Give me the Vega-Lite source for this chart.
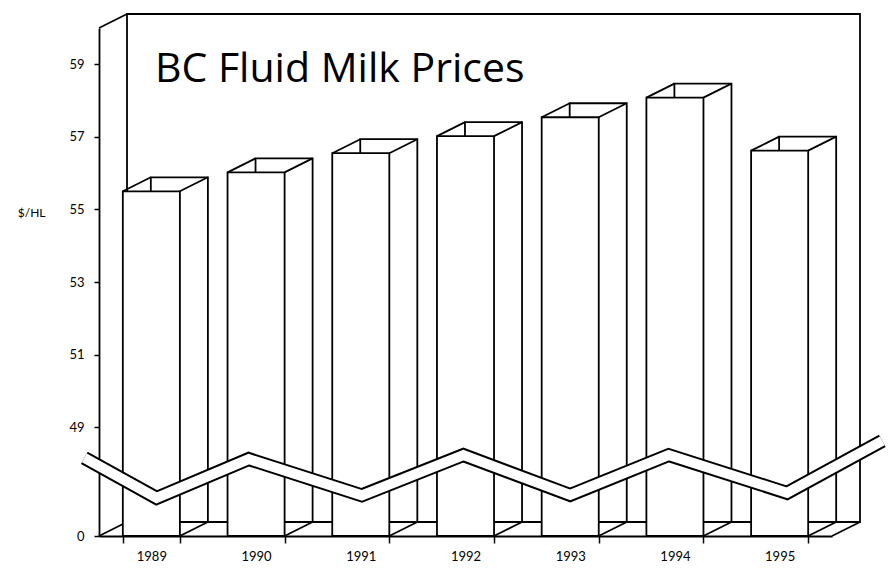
{
  "$schema": "https://vega.github.io/schema/vega-lite/v6.json",
  "width": 733,
  "height": 508,
  "autosize": {"type": "none"},
  "padding": {"left": 99, "top": 28, "right": 58, "bottom": 33},
  "background": "white",
  "config": {
    "view": {"stroke": null},
    "font": "Lato",
    "axis": {"domainColor": "black", "domainWidth": 1.8, "tickColor": "black", "tickWidth": 1.5, "labelColor": "black", "titleColor": "black", "grid": false}
  },
  "title": {
    "text": "BC Fluid Milk Prices",
    "anchor": "start",
    "frame": "group",
    "orient": "top",
    "offset": -55,
    "dx": 56,
    "dy": 58,
    "baseline": "alphabetic",
    "font": "Open Sans",
    "fontSize": 41,
    "fontWeight": "normal",
    "color": "black"
  },
  "datasets": {
    "prices": [
      {"year": "1989", "value": 55.5},
      {"year": "1990", "value": 56.02},
      {"year": "1991", "value": 56.55},
      {"year": "1992", "value": 57.02},
      {"year": "1993", "value": 57.54},
      {"year": "1994", "value": 58.08},
      {"year": "1995", "value": 56.62}
    ],
    "breakline": [
      {"pos": -0.14, "value": 48.15},
      {"pos": 0.55, "value": 47.05},
      {"pos": 1.43, "value": 48.12},
      {"pos": 2.51, "value": 47.12},
      {"pos": 3.48, "value": 48.23},
      {"pos": 4.5, "value": 47.13},
      {"pos": 5.44, "value": 48.23},
      {"pos": 6.57, "value": 47.19},
      {"pos": 7.48, "value": 48.62}
    ],
    "frame": [{}]
  },
  "layer": [
    {
      "data": {"name": "frame"},
      "mark": {"type": "rect", "fill": "white", "stroke": "black", "strokeWidth": 1.8, "xOffset": 28, "x2Offset": 28, "yOffset": -14, "y2Offset": -14},
      "encoding": {
        "x": {"datum": 0, "type": "quantitative", "scale": {"domain": [0, 7], "nice": false, "zero": false}, "axis": null},
        "x2": {"datum": 7},
        "y": {"datum": 46, "type": "quantitative", "scale": {"domain": [46, 60], "nice": false, "zero": false}},
        "y2": {"datum": 60}
      }
    },
    {
      "data": {"name": "frame"},
      "mark": {"type": "point", "shape": "M0,0L28,-14", "size": 4, "filled": false, "stroke": "black", "strokeWidth": 1.8, "opacity": 1},
      "encoding": {
        "x": {"datum": 0, "type": "quantitative", "scale": {"domain": [0, 7], "nice": false, "zero": false}, "axis": null},
        "y": {"datum": 60, "type": "quantitative", "scale": {"domain": [46, 60], "nice": false, "zero": false}}
      }
    },
    {
      "data": {"name": "frame"},
      "mark": {"type": "point", "shape": "M0,0L28,-14", "size": 4, "filled": false, "stroke": "black", "strokeWidth": 1.8, "opacity": 1},
      "encoding": {
        "x": {"datum": 0, "type": "quantitative", "scale": {"domain": [0, 7], "nice": false, "zero": false}, "axis": null},
        "y": {"datum": 46, "type": "quantitative", "scale": {"domain": [46, 60], "nice": false, "zero": false}}
      }
    },
    {
      "data": {"name": "frame"},
      "mark": {"type": "point", "shape": "M0,0L28,-14", "size": 4, "filled": false, "stroke": "black", "strokeWidth": 1.8, "opacity": 1},
      "encoding": {
        "x": {"datum": 7, "type": "quantitative", "scale": {"domain": [0, 7], "nice": false, "zero": false}, "axis": null},
        "y": {"datum": 46, "type": "quantitative", "scale": {"domain": [46, 60], "nice": false, "zero": false}}
      }
    },
    {
      "data": {"name": "prices"},
      "mark": {"type": "bar", "fill": "white", "stroke": "black", "strokeWidth": 1.8, "xOffset": 28, "yOffset": -14, "y2Offset": -14},
      "encoding": {
        "x": {"field": "year", "type": "ordinal", "scale": {"paddingInner": 0.455, "paddingOuter": 0.2275}, "axis": null},
        "y": {"field": "value", "type": "quantitative", "scale": {"domain": [46, 60], "nice": false, "zero": false}},
        "y2": {"datum": 46}
      }
    },
    {
      "data": {"name": "prices"},
      "mark": {"type": "bar", "fill": "white", "stroke": "black", "strokeWidth": 1.8},
      "encoding": {
        "x": {
          "field": "year",
          "type": "ordinal",
          "scale": {"paddingInner": 0.455, "paddingOuter": 0.2275},
          "axis": {
            "title": null,
            "tickBand": "extent",
            "labelAngle": 0,
            "domainColor": "black",
            "domainWidth": 1.8,
            "tickColor": "black",
            "tickSize": 7,
            "tickWidth": 1.5,
            "labelFont": "Lato",
            "labelFontSize": 13,
            "labelPadding": 7,
            "labelColor": "black"
          }
        },
        "y": {
          "field": "value",
          "type": "quantitative",
          "scale": {"domain": [46, 60], "nice": false, "zero": false},
          "title": "$/HL",
          "axis": {
            "values": [46, 49, 51, 53, 55, 57, 59],
            "labelExpr": "datum.value == 46 ? '0' : datum.label",
            "grid": false,
            "domainColor": "black",
            "domainWidth": 1.8,
            "tickColor": "black",
            "tickSize": 5,
            "tickWidth": 1.5,
            "labelFont": "Lato",
            "labelFontSize": 13,
            "labelColor": "black",
            "labelPadding": 10,
            "titleAngle": 0,
            "titleX": -54,
            "titleY": 184,
            "titleAlign": "right",
            "titleBaseline": "middle",
            "titleFont": "Lato",
            "titleFontSize": 12,
            "titleFontWeight": "normal",
            "titleColor": "black"
          }
        },
        "y2": {"datum": 46}
      }
    },
    {
      "data": {"name": "prices"},
      "mark": {"type": "point", "shape": "M-28.5,0L-0.5,-14M28.5,0L56.5,-14", "size": 4, "filled": false, "stroke": "black", "strokeWidth": 1.8, "opacity": 1},
      "encoding": {
        "x": {"field": "year", "type": "ordinal", "scale": {"paddingInner": 0.455, "paddingOuter": 0.2275}, "axis": null},
        "y": {"field": "value", "type": "quantitative", "scale": {"domain": [46, 60], "nice": false, "zero": false}}
      }
    },
    {
      "data": {"name": "prices"},
      "mark": {"type": "point", "shape": "M28.5,0L56.5,-14", "size": 4, "filled": false, "stroke": "black", "strokeWidth": 1.8, "opacity": 1},
      "encoding": {
        "x": {"field": "year", "type": "ordinal", "scale": {"paddingInner": 0.455, "paddingOuter": 0.2275}, "axis": null},
        "y": {"datum": 46, "type": "quantitative", "scale": {"domain": [46, 60], "nice": false, "zero": false}}
      }
    },
    {
      "data": {"name": "breakline"},
      "mark": {"type": "line", "color": "black", "strokeWidth": 14, "strokeJoin": "miter", "strokeCap": "butt"},
      "encoding": {
        "x": {"field": "pos", "type": "quantitative", "scale": {"domain": [0, 7], "nice": false, "zero": false}, "axis": null},
        "y": {"field": "value", "type": "quantitative", "scale": {"domain": [46, 60], "nice": false, "zero": false}}
      }
    },
    {
      "data": {"name": "breakline"},
      "mark": {"type": "line", "color": "white", "strokeWidth": 10, "strokeJoin": "miter", "strokeCap": "butt"},
      "encoding": {
        "x": {"field": "pos", "type": "quantitative", "scale": {"domain": [0, 7], "nice": false, "zero": false}, "axis": null},
        "y": {"field": "value", "type": "quantitative", "scale": {"domain": [46, 60], "nice": false, "zero": false}}
      }
    }
  ],
  "resolve": {"scale": {"x": "independent"}}
}
